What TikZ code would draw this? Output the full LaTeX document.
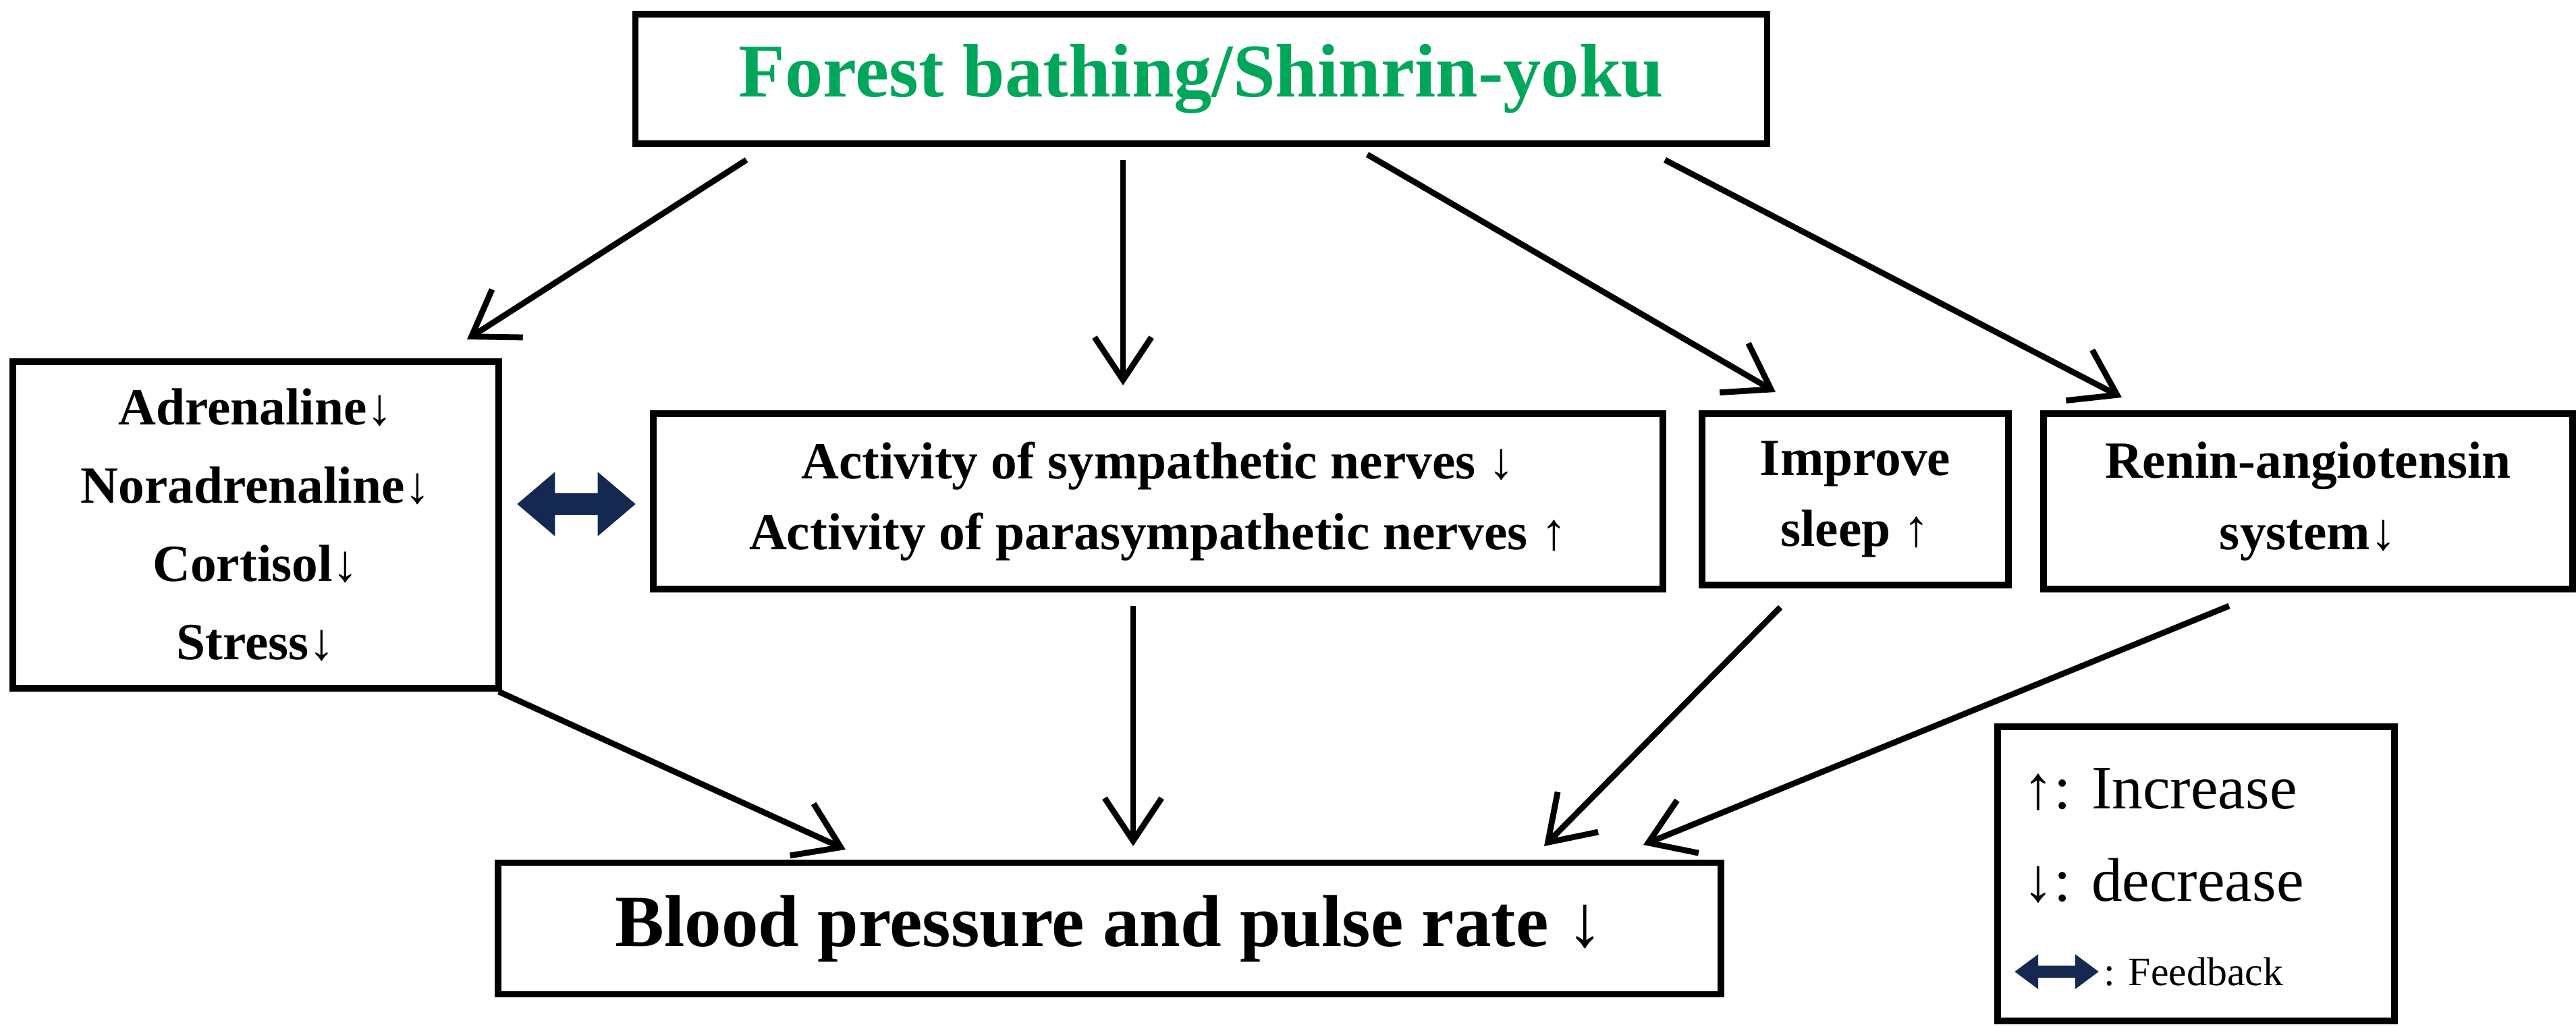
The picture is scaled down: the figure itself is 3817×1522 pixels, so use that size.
\documentclass[tikz,border=0pt]{standalone}
\usepackage{fontspec}
\setmainfont{Liberation Serif}
\usetikzlibrary{arrows.meta}
\definecolor{fgreen}{RGB}{0,166,90}
\definecolor{navy}{RGB}{20,40,80}
\begin{document}
\begin{tikzpicture}[x=0.01cm,y=-0.01cm,
 box/.style={draw,line width=2.8pt,inner sep=0pt,align=center,font=\bfseries\fontsize{22}{30}\selectfont},
 arr/.style={line width=2.5pt,-{Straight Barb[length=18pt,width=24pt,line width=2.5pt]}}]
\useasboundingbox (0,0) rectangle (3817,1522);
\node[box,minimum width=16.76cm,minimum height=1.92cm,text=fgreen,font=\bfseries\fontsize{32}{36}\selectfont] (top) at (1780,117) {Forest bathing/Shinrin-yoku};
\node[box,minimum width=7.19cm,minimum height=4.83cm,font=\bfseries\fontsize{22}{33}\selectfont] (hor) at (379,778) {Adrenaline↓\\Noradrenaline↓\\Cortisol↓\\Stress↓};
\node[box,minimum width=14.95cm,minimum height=2.6cm] (act) at (1716,743) {Activity of sympathetic nerves ↓\\Activity of parasympathetic nerves ↑};
\node[box,minimum width=4.53cm,minimum height=2.54cm] (slp) at (2749,740) {Improve\\sleep ↑};
\node[box,minimum width=7.83cm,minimum height=2.6cm] (ren) at (3420,743) {Renin-angiotensin\\system↓};
\node[box,minimum width=18.11cm,minimum height=1.95cm,font=\bfseries\fontsize{31}{36}\selectfont] (bp) at (1644,1376) {Blood pressure and pulse rate ↓};
\node[box,minimum width=5.87cm,minimum height=4.35cm] (leg) at (3254,1295) {};
\node[anchor=west,font=\fontsize{26}{30}\selectfont] (l1) at (2985,1170) {↑: Increase};
\node[anchor=west,font=\fontsize{26}{30}\selectfont] (l2) at (2985,1305) {↓: decrease};
\node[anchor=west,font=\fontsize{17}{20}\selectfont] (l3) at (3105,1440) {: Feedback};
\coordinate (fa) at (2985,1440); \coordinate (fb) at (3110,1440);
\draw[line width=5pt,navy,{Triangle[length=10pt,width=14pt]}-{Triangle[length=10pt,width=14pt]}] (fa) -- (fb);
\coordinate (fc) at (766,747); \coordinate (fd) at (942,747);
\draw[line width=9pt,navy,{Triangle[length=16pt,width=26pt]}-{Triangle[length=16pt,width=26pt]}] (fc) -- (fd);
\coordinate (a1) at (1106,237); \coordinate (b1) at (692,503);
\coordinate (a2) at (1664,237); \coordinate (b2) at (1664,571);
\coordinate (a3) at (2026,229); \coordinate (b3) at (2631,581);
\coordinate (a4) at (2467,237); \coordinate (b4) at (3144,589);
\coordinate (a5) at (739,1025); \coordinate (b5) at (1253,1259);
\coordinate (a6) at (1679,898); \coordinate (b6) at (1679,1254);
\coordinate (a7) at (2638,900); \coordinate (b7) at (2288,1254);
\coordinate (a8) at (3303,898); \coordinate (b8) at (2435,1252);
\foreach \i in {1,...,8} \draw[arr] (a\i) -- (b\i);
\end{tikzpicture}
\end{document}
